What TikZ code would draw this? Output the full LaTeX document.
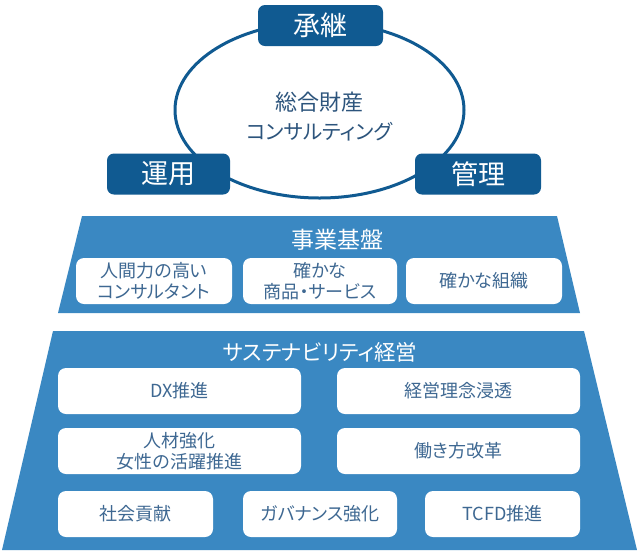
\documentclass[tikz,border=0pt]{standalone}
\usepackage{fontspec}
\usetikzlibrary{shapes.geometric}
\newfontfamily\jp{Noto Sans CJK JP}[RawFeature=+palt]
\definecolor{navy}{RGB}{16,90,145}
\definecolor{trapblue}{RGB}{58,136,194}
\definecolor{boxtext}{RGB}{62,104,146}
\definecolor{midtext}{RGB}{44,84,124}
\begin{document}
\begin{tikzpicture}[x=1pt,y=-1pt,
  darkbox/.style={fill=navy, rounded corners=7pt, text=white, minimum height=41pt,
    inner sep=0pt, font=\jp\fontsize{27}{30}\selectfont},
  whitebox/.style={fill=white, rounded corners=8pt, text=boxtext, minimum height=46pt,
    inner sep=0pt, align=center, font=\jp\fontsize{18}{21}\selectfont},
  title/.style={text=white, inner sep=0pt, font=\jp\fontsize{23}{26}\selectfont},
  trap/.style={fill=trapblue}]
\useasboundingbox[fill=white] (0,0) rectangle (637,550);

% cycle
\node[draw=navy, line width=3pt, ellipse, minimum width=289pt, minimum height=176pt, inner sep=0pt] (cyc) at (319.5,110) {};
\node[text=midtext, align=center, inner sep=0pt, font=\jp\fontsize{22}{29}\selectfont] (center) at (319.5,116.5) {総合財産\\{\fontsize{20.5}{29}\selectfont コンサルティング}};
\node[darkbox, minimum width=125pt] (shokei) at (320.5,25.5) {承継};
\node[darkbox, minimum width=123pt] (unyo) at (168.5,174) {運用};
\node[darkbox, minimum width=126pt] (kanri) at (478,174) {管理};

% business foundation
\fill[trap] (82,216) -- (557,216) -- (580,313) -- (58,313) -- cycle;
\node[title] (kiban) at (337,240) {事業基盤};
\node[whitebox, minimum width=156pt] (b1) at (154,281) {人間力の高い\\コンサルタント};
\node[whitebox, minimum width=154pt] (b2) at (320,281) {確かな\\商品・サービス};
\node[whitebox, minimum width=156pt] (b3) at (484,281) {確かな組織};

% sustainability management
\fill[trap] (53,331) -- (584,331) -- (637,550) -- (2,550) -- cycle;
\node[title, font=\jp\fontsize{21.5}{26}\selectfont] (sus) at (320,352) {サステナビリティ経営};
\node[whitebox, minimum width=243pt] (s1) at (179.5,391) {DX推進};
\node[whitebox, minimum width=243pt] (s2) at (458.5,391) {経営理念浸透};
\node[whitebox, minimum width=243pt] (s3) at (179.5,451) {人材強化\\女性の活躍推進};
\node[whitebox, minimum width=243pt] (s4) at (458.5,451) {働き方改革};
\node[whitebox, minimum width=155pt] (s5) at (135.5,514) {社会貢献};
\node[whitebox, minimum width=154pt] (s6) at (320,514) {ガバナンス強化};
\node[whitebox, minimum width=155pt] (s7) at (502.5,514) {TCFD推進};
\end{tikzpicture}
\end{document}
